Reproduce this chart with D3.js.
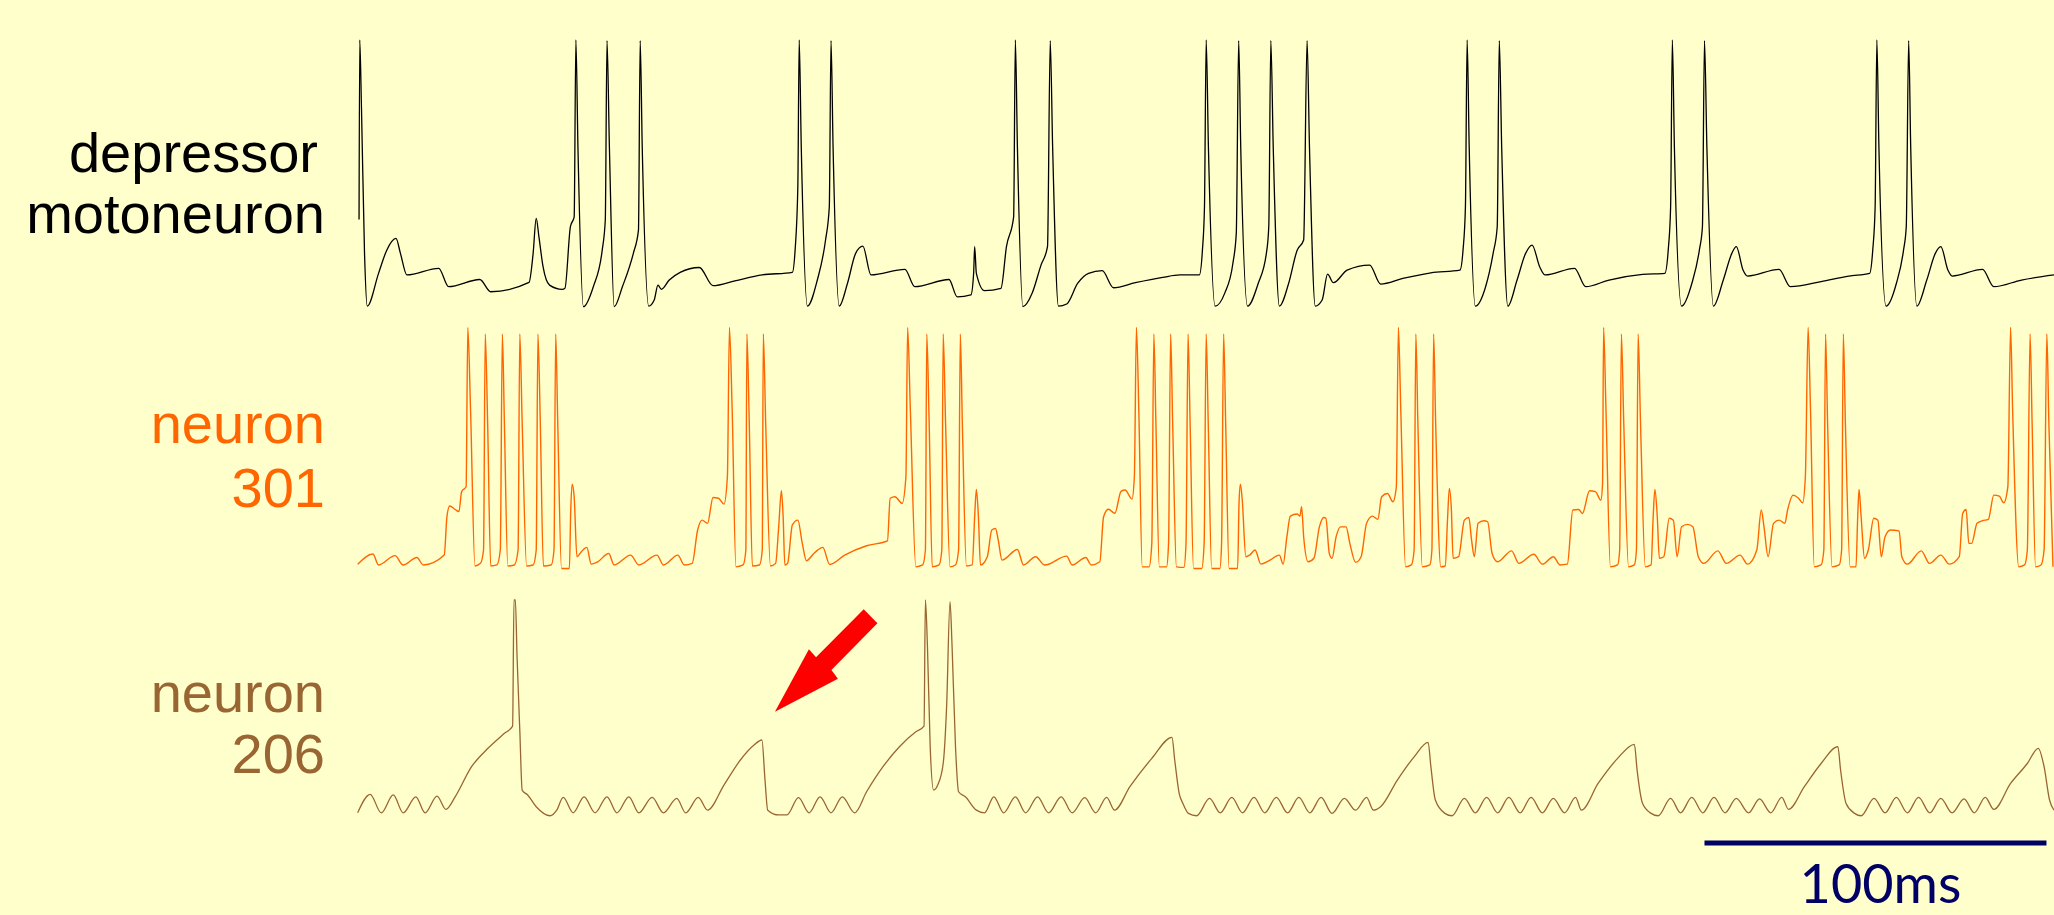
<!DOCTYPE html>
<html>
<head>
<meta charset="utf-8">
<script src="https://cdn.jsdelivr.net/npm/d3@7"></script>
<style>
  html, body { margin: 0; padding: 0; background: #ffffcc; }
  svg { display: block; }
</style>
</head>
<body>
<div id="chart"></div>
<script>
// ======================================================
// Membrane potential traces: depressor motoneuron, neuron 301, neuron 206
// time in ms, potential in mV
// ======================================================

const depressorTrace = [
  [0.6,-37.3],[0.8,30],[1.3,5],[2.2,-50],[3.0,-69.8],[6.3,-57.5],[8.7,-48.8],[11.4,-44.4],[12.7,-50],
  [14.6,-58.1],[23.9,-55.6],[26.8,-62.5],[35.9,-59.8],[39.1,-64.4],[50.3,-60.9],[51.5,-50],[52.4,-36.9],
  [53.2,-43.8],[54.4,-55],[56.3,-61.9],[60.0,-63.5],[60.8,-63.1],[62.4,-40],[63.5,-36.3],[64.0,30],
  [64.6,-10],[66.2,-70],[69.1,-62.5],[71.7,-48.8],[72.6,-37.5],[73.1,29.8],[73.8,-10],[75.2,-70],
  [77.6,-62.5],[80.8,-50],[82.3,-41.3],[82.8,29.8],[83.4,-10],[85.3,-69.8],[86.9,-67.5],[88.0,-61.9],
  [89.0,-63.5],[91.3,-60],[94.5,-57.1],[100.1,-55.3],[104.1,-62.1],[110.5,-60.3],[118.5,-58.1],
  [127.3,-57.1],[128.1,-48.8],[128.9,-25],[129.3,30],[129.9,-10],[131.7,-69.8],[134.6,-60],[137.0,-45],
  [138.1,-32.5],[138.6,29.8],[139.2,-10],[141.0,-69.8],[143.4,-61.3],[145.8,-50],[147.9,-47.3],
  [150.3,-58.1],[160.2,-56],[163.1,-62.5],[173.1,-59.8],[175.5,-66.3],[179.5,-65.6],[180.3,-57.5],
  [180.6,-47.5],[181.1,-57.5],[183.5,-64],[188.3,-63.1],[189.9,-47.5],[192.0,-36.3],[192.5,30],
  [193.1,-10],[194.7,-70],[197.4,-65],[200.0,-54.4],[201.9,-47.5],[202.7,29.8],[203.4,-10],[205.1,-69.8],
  [207.5,-69],[210.7,-61.3],[213.9,-57.5],[217.9,-56.5],[221.2,-62.9],[227.6,-61],[235.6,-59],
  [240.6,-58.1],[246.3,-58.1],[247.2,-48.8],[247.8,-32.5],[248.3,30],[248.95,-10],[250.9,-69.8],
  [253.7,-65],[256.1,-53.8],[257.1,-42.5],[257.8,29.8],[258.4,-10],[260.4,-69.8],[263.5,-61.3],
  [265.9,-50],[266.6,-40],[267.2,29.8],[267.9,-10],[269.7,-69.8],[272.4,-61.3],[274.9,-48.8],[276.8,-45],
  [277.8,29.8],[278.5,-10],[280.2,-69.8],[282.2,-67.5],[283.8,-57.8],[285.5,-61],[289.5,-56.3],
  [296.1,-54.4],[299.3,-61.5],[305.8,-59.4],[314.0,-57.3],[322.5,-56.3],[323.4,-48.8],[324.1,-32.5],
  [324.6,30],[325.2,-10],[327.0,-69.8],[330.0,-62.5],[332.2,-50],[333.4,-40],[334.0,29.8],[334.7,-10],
  [336.5,-69.8],[339.2,-60],[341.7,-50],[343.6,-46.9],[345.8,-55],[347.4,-58.1],[356.0,-55.6],
  [359.3,-62.5],[366.1,-60],[375.9,-57.9],[382.4,-57.5],[383.4,-48.8],[384.1,-32.5],[384.6,30],
  [385.2,-10],[387.3,-69.8],[390.3,-61.3],[392.5,-48.8],[393.4,-40],[394.0,29.8],[394.7,-10],
  [396.6,-69.8],[399.5,-60],[402.0,-50],[403.3,-47.5],[405.3,-56.3],[406.6,-58.5],[415.8,-56],
  [419.1,-62.5],[428.1,-60.6],[436.2,-58.5],[442.3,-57.5],[443.2,-48.8],[443.9,-32.5],[444.4,30],
  [445.0,-10],[447.1,-69.8],[450.1,-61.3],[452.2,-48.8],[453.0,-40],[453.7,29.8],[454.3,-10],
  [456.1,-69.8],[459.0,-60],[461.5,-50],[463.1,-47.5],[465.2,-56.3],[466.4,-58.5],[475.3,-56],
  [478.6,-62.5],[486.7,-60],[496.2,-58.1]
];

const neuron301Trace = [
  [0.2,-57.8],[4.65,-54],[6.3,-58.1],[11.1,-54.6],[13.5,-58.1],[17.5,-55.3],[19.4,-58.1],[25.5,-54.4],
  [26.3,-40],[27.1,-36],[28.7,-37.3],[29.8,-38.1],[30.6,-30.6],[31.9,-28.8],[32.4,31],[33.2,0],
  [34.5,-58.5],[36.1,-57.5],[37.0,-52.5],[37.5,28.5],[38.2,-5],[39.1,-58.5],[40.9,-58.1],[41.9,-52.5],
  [42.5,28.5],[43.1,-5],[44.1,-58.5],[46.0,-58.1],[47.1,-52.5],[47.6,28.5],[48.3,-5],[49.6,-58.5],
  [51.5,-58.1],[52.4,-52.5],[52.9,28.5],[53.6,-5],[54.5,-58.5],[56.8,-58.1],[57.6,-52.5],[58.1,28.5],
  [58.7,-5],[59.8,-59.4],[62.1,-59.4],[62.5,-37.5],[62.9,-27.8],[63.5,-32.5],[64.3,-55],[65.6,-53.1],
  [67.2,-51.5],[68.5,-57.8],[70.4,-56.9],[73.6,-53.8],[75.2,-58.1],[80.0,-54.4],[82.4,-58.1],
  [87.7,-54.4],[89.6,-58.1],[93.8,-54.4],[95.7,-58.1],[98.0,-57.5],[99.6,-45],[100.9,-41.3],
  [102.5,-42.5],[104.1,-32.8],[105.7,-33.1],[107.3,-35.3],[108.3,-25],[108.9,31],[109.7,0],
  [110.8,-58.8],[112.9,-58.1],[113.7,-52.5],[114.0,28.5],[114.7,-5],[115.6,-58.5],[117.7,-58.1],
  [118.5,-52.5],[118.8,28.5],[119.5,-5],[120.9,-58.5],[122.4,-57.5],[123.3,-43.8],[124.1,-30.3],
  [124.6,-40],[125.1,-58.1],[125.9,-57.5],[127.3,-43.1],[128.9,-41.3],[130.2,-50],[131.4,-56.5],
  [133.8,-53.5],[136.2,-51.5],[138.2,-57.9],[142.6,-54.4],[149.0,-50.9],[155.1,-49.1],[155.9,-33.1],
  [157.3,-32.5],[159.4,-35],[160.5,-25],[161.0,31],[161.8,0],[163.4,-58.8],[165.4,-58.1],[166.2,-52.5],
  [166.6,28.5],[167.3,-5],[168.2,-58.8],[170.2,-58.1],[171.0,-52.5],[171.4,28.5],[172.1,-5],
  [173.4,-58.8],[175.0,-58.1],[175.9,-52.5],[176.4,28.5],[177.0,-5],[178.2,-58.5],[179.9,-58.1],
  [180.6,-40],[181.1,-29.8],[181.7,-40],[182.3,-58.1],[184.3,-55],[185.6,-45],[186.7,-44.4],
  [187.5,-48.8],[188.6,-56.3],[193.1,-52.3],[194.9,-58.1],[198.4,-55],[201.1,-58.1],[207.5,-54.8],
  [209.1,-58.1],[213.1,-55.3],[214.7,-58.1],[217.2,-56.9],[218.3,-40],[219.7,-37.2],[221.6,-38.7],
  [223.4,-30.5],[224.6,-30],[226.6,-33.4],[227.3,-25],[227.9,31],[228.6,0],[229.6,-58.8],[231.6,-58.8],
  [232.4,-50],[233.0,28.5],[233.6,-5],[234.6,-58.8],[236.7,-58.8],[237.3,-50],[237.9,28.5],[238.5,-5],
  [239.6,-58.8],[241.8,-59],[242.4,-50],[243.0,28.5],[243.6,-5],[244.6,-59.4],[247.0,-59.4],[247.7,-50],
  [248.3,28.5],[248.9,-5],[249.9,-59.4],[252.3,-59.4],[252.8,-50],[253.4,28.5],[254.0,-5],[255.0,-59.4],
  [257.5,-59.4],[257.9,-35],[258.3,-27.8],[258.8,-33],[259.9,-55],[261.0,-54.4],[262.6,-52.5],
  [264.3,-57.8],[266.7,-56.5],[269.7,-54.4],[270.8,-57.8],[271.9,-47.5],[272.9,-39.8],[274.9,-39],
  [275.7,-39.8],[276.2,-36.3],[276.8,-47.5],[278.1,-56.9],[279.8,-55.6],[281.4,-43.8],[282.7,-40.3],
  [283.3,-40.6],[284.3,-53.8],[285.1,-55.6],[286.3,-47.5],[287.6,-43.8],[289.2,-43.8],[290.3,-50],
  [292.0,-57.1],[293.6,-55],[295.2,-42.5],[296.9,-39.8],[298.5,-41],[299.6,-32.5],[301.3,-31.3],
  [302.9,-34.4],[303.9,-28.8],[304.5,31],[305.2,0],[306.6,-58.8],[308.3,-58.1],[309.1,-52.5],
  [309.6,28.5],[310.2,-5],[311.5,-58.8],[313.7,-58.1],[314.3,-52.5],[314.8,28.5],[315.4,-5],
  [316.9,-58.8],[318.2,-58.5],[318.9,-40],[319.4,-29.4],[320.0,-37.5],[320.5,-55.6],[322.1,-55],
  [323.8,-41.3],[325.1,-40.3],[325.9,-48.8],[326.7,-55],[327.8,-42.5],[329.5,-41.5],[330.6,-41.9],
  [331.9,-53.8],[333.5,-56.9],[337.6,-52.8],[339.7,-57.5],[344.1,-54.1],[346.6,-57.8],[349.8,-55],
  [351.8,-58.1],[353.9,-57.8],[355.5,-37.5],[357.2,-37.3],[358.3,-38.8],[360.4,-30.3],[362.1,-30.6],
  [363.7,-33.8],[364.2,-27.5],[364.5,31],[365.2,0],[366.5,-58.8],[368.6,-58.1],[369.2,-52.5],
  [369.7,28.5],[370.4,-5],[371.8,-58.8],[373.5,-58.1],[374.1,-52.5],[374.6,28.5],[375.3,-5],
  [376.7,-58.8],[378.4,-58.1],[379.0,-40],[379.5,-29.8],[380.2,-40],[380.8,-55.6],[382.1,-55],
  [383.7,-40.6],[384.9,-41.3],[386.0,-55],[387.3,-43.8],[389.0,-42.9],[390.6,-43.8],[392.2,-55],
  [393.8,-57.5],[397.9,-52.8],[400.4,-57.5],[404.4,-54.4],[406.6,-57.8],[409.3,-52.5],[410.6,-37.5],
  [411.4,-43.8],[412.6,-55],[414.2,-42.5],[415.8,-41.3],[417.5,-42.5],[418.3,-37.5],[419.9,-31.9],
  [421.5,-33.1],[422.7,-34.8],[423.5,-25],[424.3,31],[425.0,0],[426.1,-58.8],[428.1,-58.1],
  [428.9,-52.5],[429.4,28.5],[430.0,-5],[431.3,-58.8],[433.4,-58.1],[434.1,-52.5],[434.6,28.5],
  [435.2,-5],[436.6,-58.8],[438.3,-58.8],[438.8,-40],[439.2,-29.8],[439.8,-40],[440.8,-55.6],
  [441.9,-52.5],[443.5,-40.6],[444.7,-41.3],[445.7,-55],[446.8,-47.5],[448.4,-45],[450.9,-45.3],
  [451.7,-55],[453.3,-57.8],[457.4,-52.8],[459.8,-57.5],[463.1,-54.4],[465.6,-57.8],[468.5,-55],
  [469.5,-38.8],[470.5,-37.3],[471.3,-50],[472.1,-50],[473.7,-42.5],[475.3,-41.5],[477.0,-41],
  [478.6,-31.9],[480.2,-32.3],[481.5,-34.8],[482.7,-28.8],[483.5,31],[484.1,0],[485.9,-58.8],
  [487.6,-58.1],[488.4,-52.5],[489.2,28.5],[489.8,-5],[490.8,-58.8],[492.4,-58.1],[493.3,-52.5],
  [494.1,28.5],[494.7,-5],[495.9,-58.8]
];

const neuron206Trace = [
  [0.2,-49.8],[3.85,-42.9],[7.1,-49.8],[10.6,-43.1],[13.5,-49.8],[17.2,-43.8],[19.9,-49.8],[23.4,-43.5],
  [26.0,-48.5],[28.7,-43.8],[33.5,-32.5],[38.3,-25.6],[43.1,-20],[45.5,-17.3],[45.9,30],[46.3,30],
  [46.8,8.8],[47.6,-18.8],[48.3,-41.3],[49.9,-43.1],[52.4,-47.5],[56.5,-50.9],[58.4,-48.8],[60.3,-44],
  [63.2,-49.8],[66.4,-43.8],[69.6,-49.8],[73.1,-43.8],[76.0,-49.8],[79.5,-43.8],[82.4,-49.8],[86.3,-44],
  [89.6,-49.8],[93.5,-44.4],[96.1,-49.8],[99.8,-44],[102.5,-48.8],[107.3,-39.4],[112.1,-30],
  [116.1,-24.4],[118.4,-22.5],[119.3,-37.5],[120.1,-48.8],[123.3,-50.6],[125.7,-50.6],[129.1,-44.1],
  [132.2,-49.8],[135.4,-43.8],[138.6,-49.8],[141.9,-43.8],[145.5,-49.8],[149.0,-41.9],[153.8,-32.5],
  [158.6,-25],[163.4,-19.4],[165.8,-17.3],[166.2,30],[166.8,12.5],[167.6,-25],[168.6,-41.3],
  [169.8,-39.4],[171.4,-31.3],[172.4,-10],[173.4,29.4],[174.0,12.5],[175.0,-25],[175.9,-41.9],
  [177.9,-43.8],[181.1,-48.8],[183.5,-49.8],[186.2,-43.8],[189.1,-49.8],[192.5,-43.8],[195.5,-49.8],
  [199.0,-43.8],[202.2,-49.8],[205.9,-43.8],[209.1,-49.8],[212.8,-44.1],[216.0,-49.8],[219.2,-44],
  [221.5,-48.8],[226.0,-40],[232.4,-29.4],[238.3,-21.5],[239.1,-30],[240.4,-42.5],[241.5,-46.3],
  [243.1,-50],[245.5,-50.9],[249.3,-44.4],[252.4,-49.8],[255.8,-44],[258.9,-49.8],[262.3,-44],
  [265.4,-49.8],[268.8,-44],[272.1,-49.8],[275.4,-44],[278.6,-49.8],[281.9,-44],[285.1,-50],
  [288.7,-44.4],[292.0,-48.8],[295.2,-44],[297.2,-48.8],[299.3,-47.5],[304.2,-37.5],[309.1,-28.8],
  [313.2,-23.4],[314.0,-32.5],[315.3,-45],[318.1,-50],[320.2,-50.9],[323.8,-44.4],[327.0,-49.8],
  [330.3,-44],[333.5,-49.8],[336.8,-44],[340.1,-49.8],[343.3,-44],[346.6,-49.8],[349.8,-44.4],
  [353.1,-49.8],[356.3,-44],[358.0,-48.8],[362.9,-38.8],[368.6,-29.4],[373.5,-24.1],[374.3,-33.8],
  [375.9,-46.3],[378.4,-50],[380.5,-50.9],[384.1,-44.4],[387.0,-49.8],[390.3,-44],[393.5,-49.8],
  [396.8,-44],[400.0,-49.8],[403.3,-44.4],[406.9,-49.8],[410.1,-44.6],[413.4,-49.8],[416.6,-44],
  [418.6,-48.5],[423.2,-40],[428.1,-31.3],[433.0,-25],[433.8,-33.8],[435.4,-46.3],[437.9,-50],
  [439.8,-50.9],[443.6,-44.4],[446.8,-49.8],[450.1,-44],[453.3,-49.8],[456.6,-44],[459.9,-49.8],
  [463.1,-44.4],[466.4,-49.8],[469.9,-44.6],[472.9,-49.8],[476.1,-44],[478.6,-48.5],[483.5,-38.8],
  [488.4,-31.3],[491.6,-25.6],[493.3,-32.5],[494.9,-45],[496.2,-48.8]
];

const traceLabels = [["depressor", "motoneuron"], ["neuron", "301"], ["neuron", "206"]];
const scaleBarMs = [394, 494];
const scaleBarLabel = "100ms";
const arrowTip = [122.2, -11.9];   // points at the failed burst of neuron 206

// ------------------------------------------------------
// layout
// ------------------------------------------------------
const width = 2054;
const height = 915;

const svg = d3.select("#chart")
  .append("svg")
  .attr("width", width)
  .attr("height", height);

svg.append("rect")
  .attr("width", width)
  .attr("height", height)
  .attr("fill", "#ffffcc");

const x = d3.scaleLinear()
  .domain([0, 500])
  .range([357, 357 + 500 * 3.42]);

const rows = [
  { data: depressorTrace, color: "#000000", top: 20, labelX: [318, 325], labelY: [172, 233], width: 1.3 },
  { data: neuron301Trace, color: "#ff6600", top: 310, labelX: [325, 325], labelY: [443, 507], width: 1.4 },
  { data: neuron206Trace, color: "#996633", top: 580, labelX: [325, 325], labelY: [712, 773], width: 1.3 }
];

rows.forEach((row, i) => {
  const y = d3.scaleLinear()
    .domain([-70, 30])
    .range([row.top + 286.7, row.top + 20]);
  row.y = y;

  const line = d3.line()
    .x(d => x(d[0]))
    .y(d => y(d[1]))
    .curve(d3.curveMonotoneX);

  svg.append("path")
    .datum(row.data)
    .attr("fill", "none")
    .attr("stroke", row.color)
    .attr("stroke-width", row.width)
    .attr("stroke-linejoin", "round")
    .attr("d", line);

  svg.append("g")
    .selectAll("text")
    .data(traceLabels[i])
    .enter()
    .append("text")
    .attr("x", (d, j) => row.labelX[j])
    .attr("y", (d, j) => row.labelY[j])
    .attr("text-anchor", "end")
    .attr("font-family", "'Liberation Sans', Arial, sans-serif")
    .attr("font-size", "56px")
    .attr("fill", row.color)
    .text(d => d);
});

// Red arrow pointing at neuron 206 depolarisation
const tipX = x(arrowTip[0]);
const tipY = rows[2].y(arrowTip[1]);
const arrowShape = [[0, 0], [34, -62.4], [41.1, -54.4], [88.8, -102.4], [102.5, -88.4], [56.5, -41.7], [63, -33]];

svg.append("polygon")
  .attr("points", arrowShape.map(p => [tipX + p[0], tipY + p[1]].join(",")).join(" "))
  .attr("fill", "#ff0000");

// Scale bar
svg.append("line")
  .attr("x1", x(scaleBarMs[0]))
  .attr("x2", x(scaleBarMs[1]))
  .attr("y1", 843)
  .attr("y2", 843)
  .attr("stroke", "#000066")
  .attr("stroke-width", 5);

svg.append("text")
  .attr("x", x((scaleBarMs[0] + scaleBarMs[1]) / 2) + 5)
  .attr("y", 903)
  .attr("text-anchor", "middle")
  .attr("font-family", "Lato, 'Open Sans', sans-serif")
  .attr("font-size", "54px")
  .attr("fill", "#000066")
  .text(scaleBarLabel);
</script>
</body>
</html>
